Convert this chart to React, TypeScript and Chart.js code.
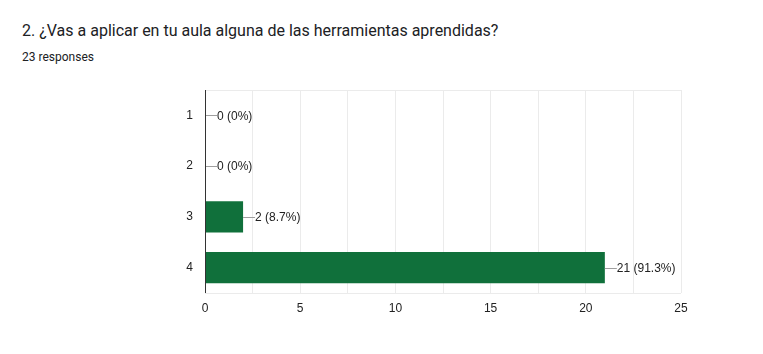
import React, { useEffect, useRef } from "react";
import { Chart, registerables } from "chart.js";

Chart.register(...registerables);

const categories = ["1", "2", "3", "4"];
const counts = [0, 0, 2, 21];
const percentLabels = ["0%", "0%", "8.7%", "91.3%"];
const xTickValues = [0, 5, 10, 15, 20, 25];

const labelPlugin = {
  id: "leaderLabels",
  afterDatasetsDraw(chart: any) {
    const ctx = chart.ctx;
    const meta = chart.getDatasetMeta(0);
    ctx.save();
    meta.data.forEach((bar: any, i: number) => {
      const x = bar.x;
      const y = bar.y;
      ctx.strokeStyle = "#9e9e9e";
      ctx.lineWidth = 1;
      ctx.beginPath();
      ctx.moveTo(x, Math.round(y) + 0.5);
      ctx.lineTo(x + 12, Math.round(y) + 0.5);
      ctx.stroke();
      ctx.fillStyle = "#222222";
      ctx.font = "12px Arial, 'Liberation Sans', sans-serif";
      ctx.textBaseline = "middle";
      ctx.textAlign = "left";
      ctx.fillText(`${counts[i]} (${percentLabels[i]})`, x + 12, y + 1);
    });
    ctx.restore();
  },
  beforeDatasetsDraw(chart: any) {
    const ctx = chart.ctx;
    const a = chart.chartArea;
    ctx.save();
    ctx.strokeStyle = "#ebebeb";
    ctx.lineWidth = 1;
    ctx.beginPath();
    ctx.moveTo(a.left, Math.round(a.top) + 0.5);
    ctx.lineTo(a.right, Math.round(a.top) + 0.5);
    ctx.moveTo(a.left, Math.round(a.bottom) + 0.5);
    ctx.lineTo(a.right, Math.round(a.bottom) + 0.5);
    ctx.stroke();
    ctx.restore();
  },
  afterDraw(chart: any) {
    const ctx = chart.ctx;
    const a = chart.chartArea;
    ctx.save();
    ctx.strokeStyle = "#333333";
    ctx.lineWidth = 1;
    ctx.beginPath();
    ctx.moveTo(Math.round(a.left) + 0.5, a.top);
    ctx.lineTo(Math.round(a.left) + 0.5, a.bottom);
    ctx.stroke();
    ctx.restore();
  },
};

export default function App() {
  const ref = useRef<HTMLCanvasElement>(null);

  useEffect(() => {
    document.body.style.margin = "0";
    const chart = new Chart(ref.current as HTMLCanvasElement, {
      type: "bar",
      data: {
        labels: categories,
        datasets: [
          {
            data: counts,
            backgroundColor: "#10703b",
            borderWidth: 0,
            categoryPercentage: 1,
            barPercentage: 0.62,
          },
        ],
      },
      options: {
        indexAxis: "y",
        animation: false,
        responsive: false,
        maintainAspectRatio: false,
        layout: { padding: { left: 0, top: 90, right: 82, bottom: 31 } },
        plugins: {
          legend: { display: false },
          tooltip: { enabled: false },
        },
        scales: {
          x: {
            min: 0,
            max: 25,
            ticks: {
              stepSize: 2.5,
              padding: 8,
              color: "#222222",
              font: { family: "Arial, 'Liberation Sans', sans-serif", size: 12 },
              maxRotation: 0,
              autoSkip: false,
              callback: (v: any) => (xTickValues.includes(Number(v)) ? String(v) : ""),
            },
            grid: { color: "#ebebeb", drawTicks: false },
            border: { display: false },
            afterFit: (s: any) => {
              s.height = 30;
            },
          },
          y: {
            ticks: {
              padding: 12,
              color: "#222222",
              font: { family: "Arial, 'Liberation Sans', sans-serif", size: 12 },
            },
            grid: { display: false, drawTicks: false },
            border: { display: false },
            afterFit: (s: any) => {
              s.width = 205;
            },
          },
        },
      },
      plugins: [labelPlugin],
    });
    return () => chart.destroy();
  }, []);

  return (
    <div style={{ position: "relative", width: 763, height: 354, background: "#fff", overflow: "hidden" }}>
      <div
        style={{
          position: "absolute",
          left: 22,
          top: 21,
          fontFamily: "Roboto, Arial, sans-serif",
          fontSize: 16,
          color: "#202124",
          whiteSpace: "nowrap",
        }}
      >
        2. ¿Vas a aplicar en tu aula alguna de las herramientas aprendidas?
      </div>
      <div
        style={{
          position: "absolute",
          left: 22,
          top: 50,
          fontFamily: "Roboto, Arial, sans-serif",
          fontSize: 12,
          color: "#202124",
          whiteSpace: "nowrap",
        }}
      >
        23 responses
      </div>
      <canvas ref={ref} width={763} height={354} style={{ position: "absolute", left: 0, top: 0 }} />
    </div>
  );
}
